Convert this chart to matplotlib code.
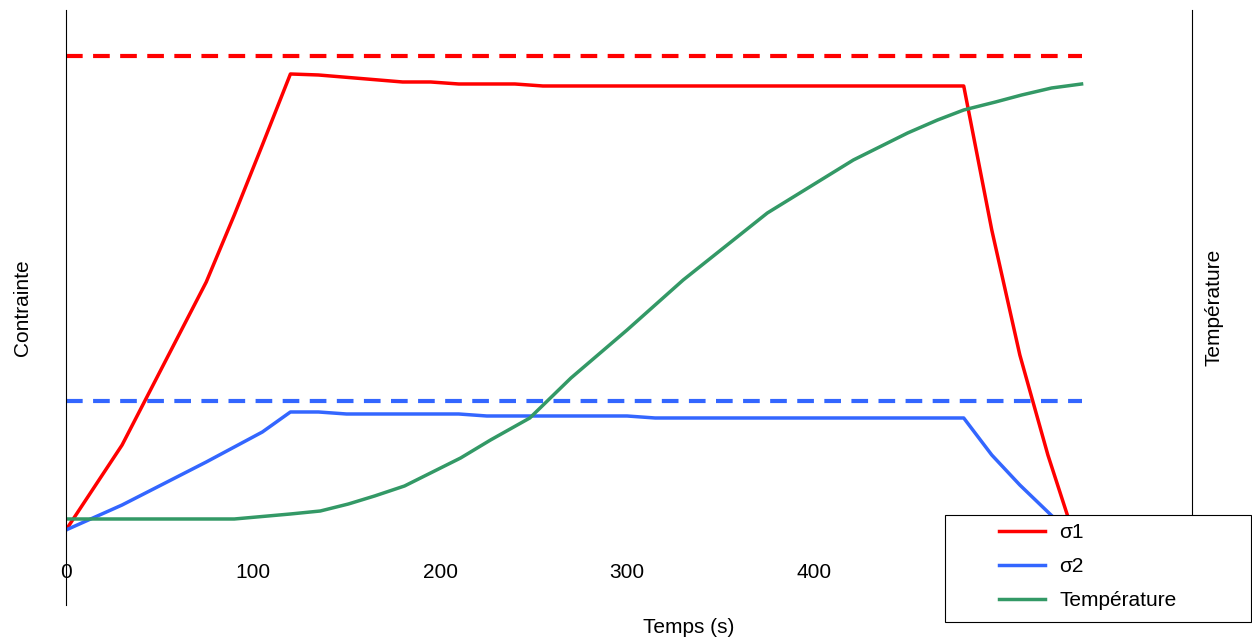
import matplotlib
matplotlib.use("Agg")
import matplotlib.pyplot as plt
from matplotlib.patches import Rectangle

plt.rcParams['font.family'] = ['Liberation Sans', 'DejaVu Sans']

s1_x = [0, 30, 75, 90, 105, 120, 135, 180, 195, 210, 240, 255, 480, 495, 510, 525, 538]
s1_y = [0, 85, 248, 315, 385, 456, 455, 448, 448, 446, 446, 444, 444, 300, 175, 75, 0]
s2_x = [0, 30, 75, 105, 120, 135, 150, 210, 225, 300, 315, 480, 495, 510, 535]
s2_y = [0, 25, 68, 98, 118, 118, 116, 116, 114, 114, 112, 112, 75, 45, 0]
t_x = [0, 90, 120, 136, 151, 165, 181, 211, 227, 248, 270, 300, 330, 375, 421, 450, 466, 480, 497, 511, 527, 543]
t_y = [11, 11, 16, 19, 26, 34, 44, 72, 90, 112, 152, 200, 250, 317, 370, 397, 410, 420, 428, 435, 442, 446]
lim1 = 474
lim2 = 129
xticks = [0, 100, 200, 300, 400, 500]

W, H = 1252, 640
fig = plt.figure(figsize=(12.52, 6.4), dpi=100)
ax = fig.add_axes([0.0527, 0.0547, 0.8993, 0.9297])
ax.set_xlim(0, 602)
ax.set_ylim(-75, 520)
ax.plot([0, 543], [lim1, lim1], color='#ff0000', lw=3, ls=(0, (4, 2.5)))
ax.plot([0, 543], [lim2, lim2], color='#3366ff', lw=3, ls=(0, (4, 2.5)))
l1, = ax.plot(s1_x, s1_y, color='#ff0000', lw=2.5, label='σ1')
l2, = ax.plot(s2_x, s2_y, color='#3366ff', lw=2.5, label='σ2')
l3, = ax.plot(t_x, t_y, color='#339966', lw=2.5, label='Température')

ax.spines['top'].set_visible(False)
ax.spines['bottom'].set_visible(False)
ax.spines['bottom'].set_position(('data', 0))
for s in ['left', 'right']:
    ax.spines[s].set_linewidth(0.8)
ax.set_yticks([])
ax.set_xticks(xticks)
ax.set_xticklabels([str(v) for v in xticks], fontsize=15)
ax.tick_params(axis='x', length=0, pad=24)
ax.set_ylabel('Contrainte', fontsize=15)
ax.yaxis.set_label_coords(-0.03, 0.5)
ax.set_xlabel('Temps (s)', fontsize=15)
ax.xaxis.set_label_coords(0.553, -0.022)
fig.text(0.970, 0.52, 'Température', rotation=90, fontsize=15, ha='center', va='center')

rect = Rectangle((945/W, 18/H), 306/W, 107/H, transform=fig.transFigure,
                 facecolor='white', edgecolor='black', linewidth=0.8, zorder=4)
fig.patches.append(rect)

leg = fig.legend(handles=[l1, l2, l3], loc='upper left',
                 bbox_to_anchor=(999/W, 117/H),
                 fontsize=15, frameon=False,
                 handlelength=2.2, handletextpad=0.7, borderpad=0, labelspacing=0.72,
                 borderaxespad=0)
leg.set_zorder(5)
fig.savefig('out.png', dpi=100)
